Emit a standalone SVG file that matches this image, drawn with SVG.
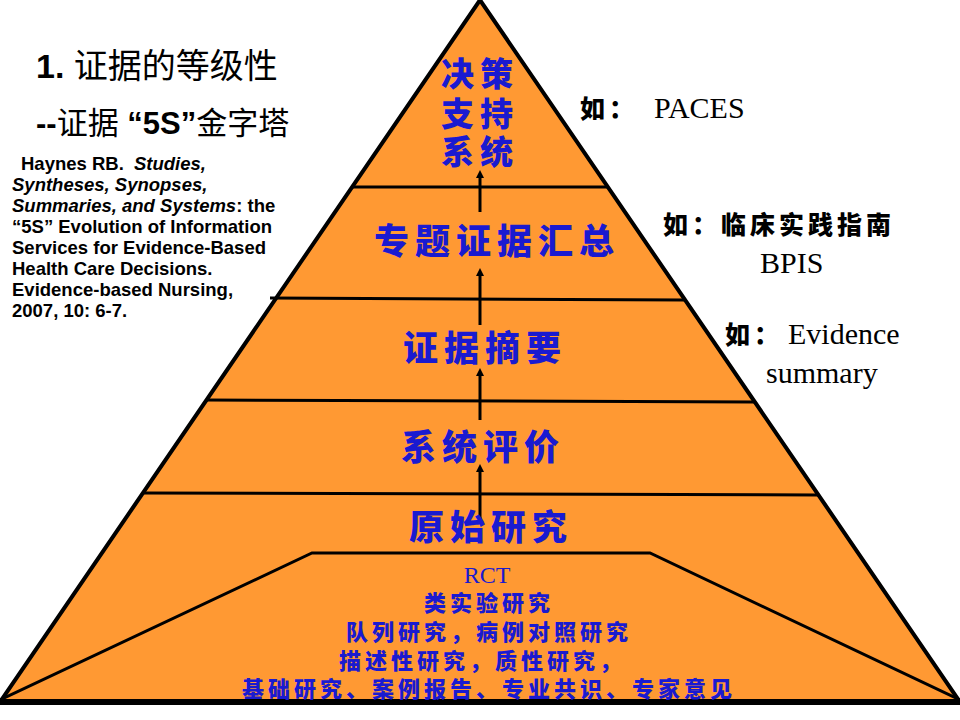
<svg xmlns="http://www.w3.org/2000/svg" width="960" height="720" viewBox="0 0 960 720">
<defs>
<marker id="ah" markerWidth="8" markerHeight="8" refX="4" refY="4" orient="auto" markerUnits="userSpaceOnUse"><path d="M0,0 L8,4 L0,8 Z" fill="#000"/></marker>
<style>
.cn{font-family:"Noto Sans CJK SC",sans-serif;font-weight:900;fill:#1a1ad0;text-anchor:middle}
.big{font-size:35px;letter-spacing:6px}
.top{font-size:33px;letter-spacing:6px}
.sm{font-size:22px;letter-spacing:4px}
.ln{stroke:#000;stroke-width:3;fill:none}
.bk{font-family:"Liberation Sans","Noto Sans CJK SC",sans-serif;fill:#000}
.ref{font-family:"Liberation Sans",sans-serif;font-weight:bold;font-size:18.5px;fill:#000}
.ex{font-family:"Liberation Serif","Noto Sans CJK SC",serif;font-size:30px;fill:#000}
.exc{font-family:"Noto Sans CJK SC",sans-serif;font-weight:900;font-size:25px;letter-spacing:4px}
</style>
</defs>
<rect width="960" height="720" fill="#fff"/>
<g id="pyramid">
<polygon points="480,0 0,702 960,702" fill="#FF9933" stroke="#000" stroke-width="4"/>
<line class="ln" x1="352" y1="187" x2="608" y2="187"/>
<line class="ln" x1="270" y1="298" x2="684" y2="300"/>
<line class="ln" x1="206" y1="400" x2="754" y2="402"/>
<line class="ln" x1="142" y1="493" x2="818" y2="495"/>
<polyline class="ln" points="0,700 312,553 650,553 960,700" stroke-width="4"/>
<line x1="0" y1="702" x2="960" y2="702" stroke="#000" stroke-width="6"/>
</g>
<g id="connectors" stroke="#000" stroke-width="3">
<line x1="480" y1="520" x2="480" y2="468" marker-end="url(#ah)"/>
<line x1="480" y1="420" x2="480" y2="372" marker-end="url(#ah)"/>
<line x1="480" y1="325" x2="480" y2="272" marker-end="url(#ah)"/>
<line x1="480" y1="212" x2="480" y2="174" marker-end="url(#ah)"/>
</g>
<g id="n1"><text class="cn top" x="480" y="86">决策</text><text class="cn top" x="480" y="126">支持</text><text class="cn top" x="480" y="164">系统</text></g>
<g id="n2"><text class="cn big" x="497" y="254">专题证据汇总</text></g>
<g id="n3"><text class="cn big" x="485" y="361">证据摘要</text></g>
<g id="n4"><text class="cn big" x="483" y="460">系统评价</text></g>
<g id="n5"><text class="cn big" x="491" y="540">原始研究</text></g>
<g id="n6">
<text x="487" y="583" font-family="Liberation Serif,serif" font-size="24" fill="#1a1ad0" text-anchor="middle">RCT</text>
<text class="cn sm" x="489" y="611">类实验研究</text>
<text class="cn sm" x="489" y="640">队列研究，病例对照研究</text>
<text class="cn sm" x="482" y="669">描述性研究，质性研究，</text>
<text class="cn sm" x="489" y="697">基础研究、案例报告、专业共识、专家意见</text>
</g>
<g id="title">
<text class="bk" x="36" y="78" font-size="34"><tspan font-weight="bold">1.</tspan> 证据的等级性</text>
<text class="bk" x="36" y="134" font-size="31"><tspan font-weight="bold">--</tspan>证据 <tspan font-weight="bold">“5S”</tspan>金字塔</text>
</g>
<g id="reference">
<text class="ref" x="21" y="170">Haynes RB.  <tspan font-style="italic" dx="5">Studies,</tspan></text>
<text class="ref" x="12" y="191" font-style="italic">Syntheses, Synopses,</text>
<text class="ref" x="12" y="212"><tspan font-style="italic">Summaries, and Systems</tspan>: the</text>
<text class="ref" x="12" y="233">“5S” Evolution of Information</text>
<text class="ref" x="12" y="254">Services for Evidence-Based</text>
<text class="ref" x="12" y="275">Health Care Decisions.</text>
<text class="ref" x="12" y="296">Evidence-based Nursing,</text>
<text class="ref" x="12" y="317">2007, 10: 6-7.</text>
</g>
<g id="examples">
<text class="ex" x="580" y="118"><tspan class="exc">如：</tspan><tspan x="654">PACES</tspan></text>
<text class="ex" x="663" y="234"><tspan class="exc">如：临床实践指南</tspan></text>
<text class="ex" x="760" y="273">BPIS</text>
<text class="ex" x="725" y="344"><tspan class="exc">如：</tspan><tspan x="788">Evidence</tspan></text>
<text class="ex" x="766" y="383">summary</text>
</g>
</svg>
